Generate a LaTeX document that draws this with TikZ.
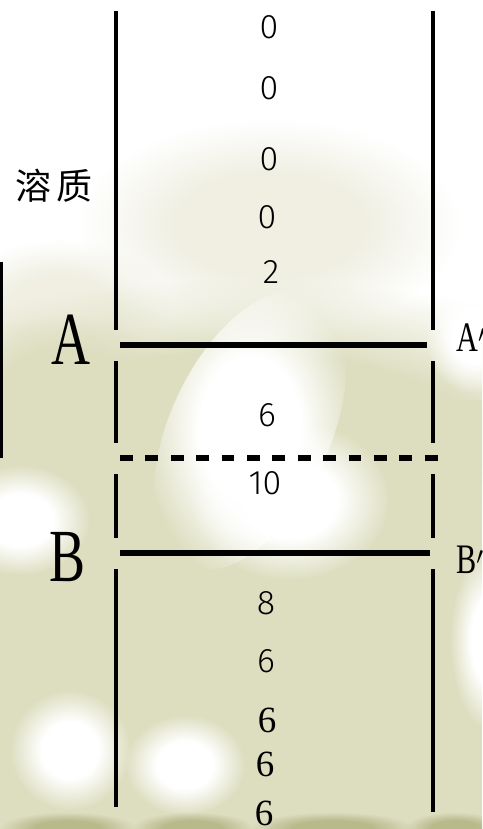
\documentclass[tikz,border=0pt]{standalone}
\usepackage{fontspec}
\setmainfont{Liberation Serif}
\newfontfamily\cjk{Noto Sans CJK SC}
\newfontfamily\digf{Fira Sans Light}
\newfontfamily\narrowserif{Liberation Serif}[FakeStretch=0.72]
\usetikzlibrary{fadings}
\pgfdeclareradialshading{softsh}{\pgfpointorigin}{color(0bp)=(pgftransparent!0); color(12bp)=(pgftransparent!0); color(25bp)=(pgftransparent!100); color(50bp)=(pgftransparent!100)}
\pgfdeclarefading{soft}{\pgfuseshading{softsh}}
\definecolor{olv}{RGB}{221,222,192}
\definecolor{olvl}{RGB}{240,239,226}
\definecolor{olvd}{RGB}{185,186,140}
\begin{document}
\begin{tikzpicture}[x=1pt,y=-1pt,
  wall/.style={line width=4pt},
  bar/.style={line width=5.5pt},
  dashbar/.style={line width=5.5pt, dash pattern=on 12.7pt off 12.7pt},
  num/.style={inner sep=0pt, font=\digf\fontsize{34}{34}\selectfont},
  bignum/.style={inner sep=0pt, font=\fontsize{37}{37}\selectfont},
  bigletter/.style={inner sep=0pt, font=\narrowserif\fontsize{75}{75}\selectfont},
  letter/.style={inner sep=0pt, font=\narrowserif\fontsize{42}{42}\selectfont},
  blob/.style={path fading=soft},
]
\clip (0,0) rectangle (482,829);
% background (faded photo)
\fill[white] (0,0) rectangle (482,829);
\fill[olvl, blob] (270,225) ellipse (190 and 105);
\fill[olvl, blob] (60,310) ellipse (110 and 70);
\fill[olv, blob] (241,420) ellipse (420 and 140);
\fill[olv] (0,400) rectangle (482,829);
\fill[olv, blob] (60,385) ellipse (110 and 70);
\fill[olv, blob] (420,450) ellipse (110 and 80);
\fill[white, blob, rotate around={65:(250,430)}] (250,430) ellipse (150 and 80);
\fill[white, blob] (290,500) ellipse (100 and 80);
\fill[white, blob] (20,520) ellipse (70 and 55);
\fill[white, blob] (70,750) ellipse (60 and 60);
\fill[white, blob] (185,765) ellipse (60 and 50);
\fill[white, blob] (490,640) ellipse (40 and 90);
\fill[white, blob] (475,335) ellipse (50 and 60);
\foreach \a/\b in {20/115,150/235,275/390,420/490}
  \fill[olvd, blob] ({(\a+\b)/2},828) ellipse ({(\b-\a)/1.4} and 16);
% walls
\foreach \xx in {116,433}{
  \draw[wall] (\xx,11) -- (\xx,330);
  \draw[wall] (\xx,361) -- (\xx,443);
  \draw[wall] (\xx,474) -- (\xx,538);
}
\draw[wall] (116,569) -- (116,807);
\draw[wall] (433,569) -- (433,812);
\draw[line width=3pt] (1.5,262) -- (1.5,458);
% membranes
\draw[bar] (120,345) -- (427,345);
\draw[dashbar] (120,458) -- (440,458);
\draw[bar] (120,553) -- (430,553);
% labels
\node[inner sep=0pt, font=\cjk\fontsize{36}{36}\selectfont] (solute) at (54,186) {溶\hspace{4.5pt}质};
\node[bigletter] (A) at (71,340) {A};
\node[bigletter] (B) at (68,557) {B};
\node[letter, anchor=west] (A2) at (456,338) {A$'$};
\node[letter, anchor=west] (B2) at (456,560) {B$'$};
% numbers
\node[num] (n1) at (269,27) {0};
\node[num] (n2) at (269,88) {0};
\node[num] (n3) at (269,159) {0};
\node[num] (n4) at (267,217) {0};
\node[num] (n5) at (271,272) {2};
\node[num] (n6) at (267,415) {6};
\node[num] (n7) at (265,483) {10};
\node[num] (n8) at (266,603) {8};
\node[num] (n9) at (266,661) {6};
\node[bignum] (n10) at (267,720) {6};
\node[bignum] (n11) at (265,764) {6};
\node[bignum] (n12) at (264,813) {6};
\end{tikzpicture}
\end{document}
